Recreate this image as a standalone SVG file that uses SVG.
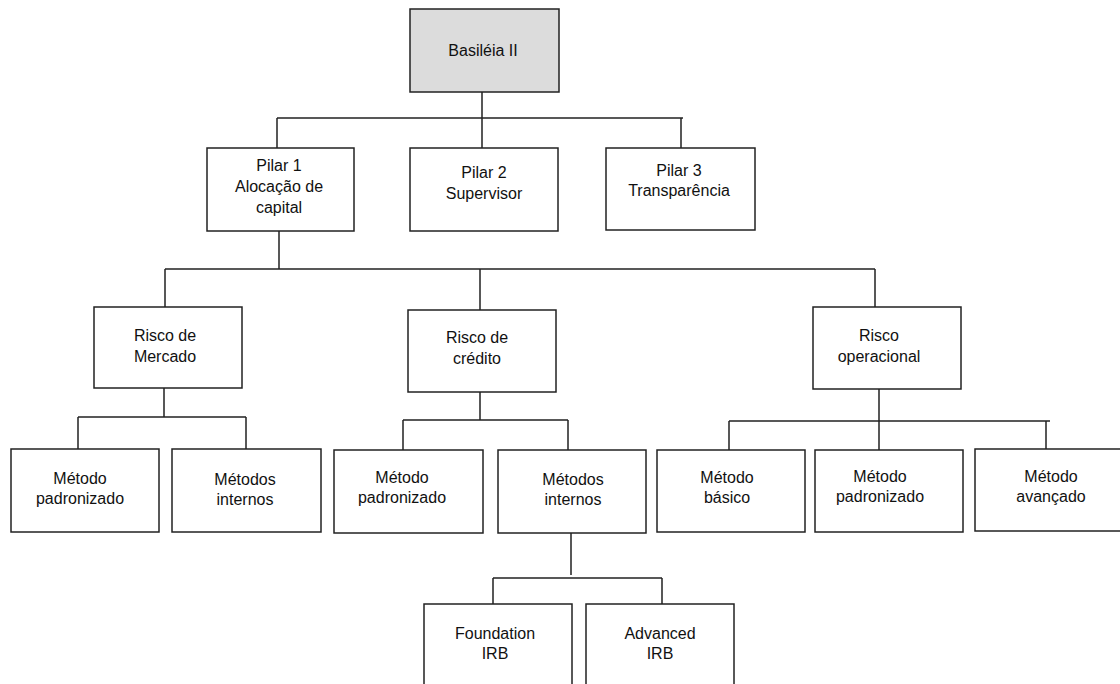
<svg xmlns="http://www.w3.org/2000/svg" width="1120" height="684" viewBox="0 0 1120 684">
<style>
.box{fill:#fff;stroke:#222;stroke-width:1.5}
.root{fill:#dcdcdc;stroke:#222;stroke-width:1.5}
.c{fill:none;stroke:#222;stroke-width:1.5}
text{font-family:"Liberation Sans",Arial,sans-serif;font-size:16px;fill:#111;text-anchor:middle}
</style>
<rect width="1120" height="684" fill="#fff"/>
<g id="connectors">
<path class="c" d="M482 92V118M277 118H683M277 118V148M482 118V148M681 118V148"/>
<path class="c" d="M279 231V269M165 269H875M165 269V307M480 269V310M875 269V307"/>
<path class="c" d="M164 388V417M78 417H246M78 417V449M246 417V449"/>
<path class="c" d="M480 392V420M403 420H568M403 420V450M568 420V450"/>
<path class="c" d="M879 389V450M729 421H1050M729 421V450M1046 421V449"/>
<path class="c" d="M571 533V575M493 578H662M493 578V604M662 578V604"/>
</g>
<g id="basileia"><rect class="root" x="410" y="9" width="149" height="83"/><text x="483" y="56">Basiléia II</text></g>
<g id="pilar1"><rect class="box" x="207" y="148" width="147" height="83"/><text x="279" y="171">Pilar 1</text><text x="279" y="192">Alocação de</text><text x="279" y="213">capital</text></g>
<g id="pilar2"><rect class="box" x="410" y="148" width="148" height="83"/><text x="484" y="178">Pilar 2</text><text x="484" y="199">Supervisor</text></g>
<g id="pilar3"><rect class="box" x="606" y="148" width="149" height="82"/><text x="679" y="176">Pilar 3</text><text x="679" y="196">Transparência</text></g>
<g id="risco-mercado"><rect class="box" x="94" y="307" width="148" height="81"/><text x="165" y="341">Risco de</text><text x="165" y="362">Mercado</text></g>
<g id="risco-credito"><rect class="box" x="408" y="310" width="148" height="82"/><text x="477" y="343">Risco de</text><text x="477" y="364">crédito</text></g>
<g id="risco-operacional"><rect class="box" x="813" y="307" width="148" height="82"/><text x="879" y="341">Risco</text><text x="879" y="362">operacional</text></g>
<g id="merc-padronizado"><rect class="box" x="11" y="449" width="148" height="83"/><text x="80" y="484">Método</text><text x="80" y="504">padronizado</text></g>
<g id="merc-internos"><rect class="box" x="172" y="449" width="149" height="83"/><text x="245" y="485">Métodos</text><text x="245" y="505">internos</text></g>
<g id="cred-padronizado"><rect class="box" x="334" y="450" width="149" height="83"/><text x="402" y="483">Método</text><text x="402" y="503">padronizado</text></g>
<g id="cred-internos"><rect class="box" x="498" y="450" width="148" height="83"/><text x="573" y="485">Métodos</text><text x="573" y="505">internos</text></g>
<g id="op-basico"><rect class="box" x="657" y="450" width="148" height="82"/><text x="727" y="483">Método</text><text x="727" y="503">básico</text></g>
<g id="op-padronizado"><rect class="box" x="815" y="450" width="148" height="82"/><text x="880" y="482">Método</text><text x="880" y="502">padronizado</text></g>
<g id="op-avancado"><rect class="box" x="975" y="449" width="148" height="82"/><text x="1051" y="482">Método</text><text x="1051" y="502">avançado</text></g>
<g id="foundation-irb"><rect class="box" x="424" y="604" width="148" height="100"/><text x="495" y="639">Foundation</text><text x="495" y="659">IRB</text></g>
<g id="advanced-irb"><rect class="box" x="586" y="604" width="148" height="100"/><text x="660" y="639">Advanced</text><text x="660" y="659">IRB</text></g>
</svg>
